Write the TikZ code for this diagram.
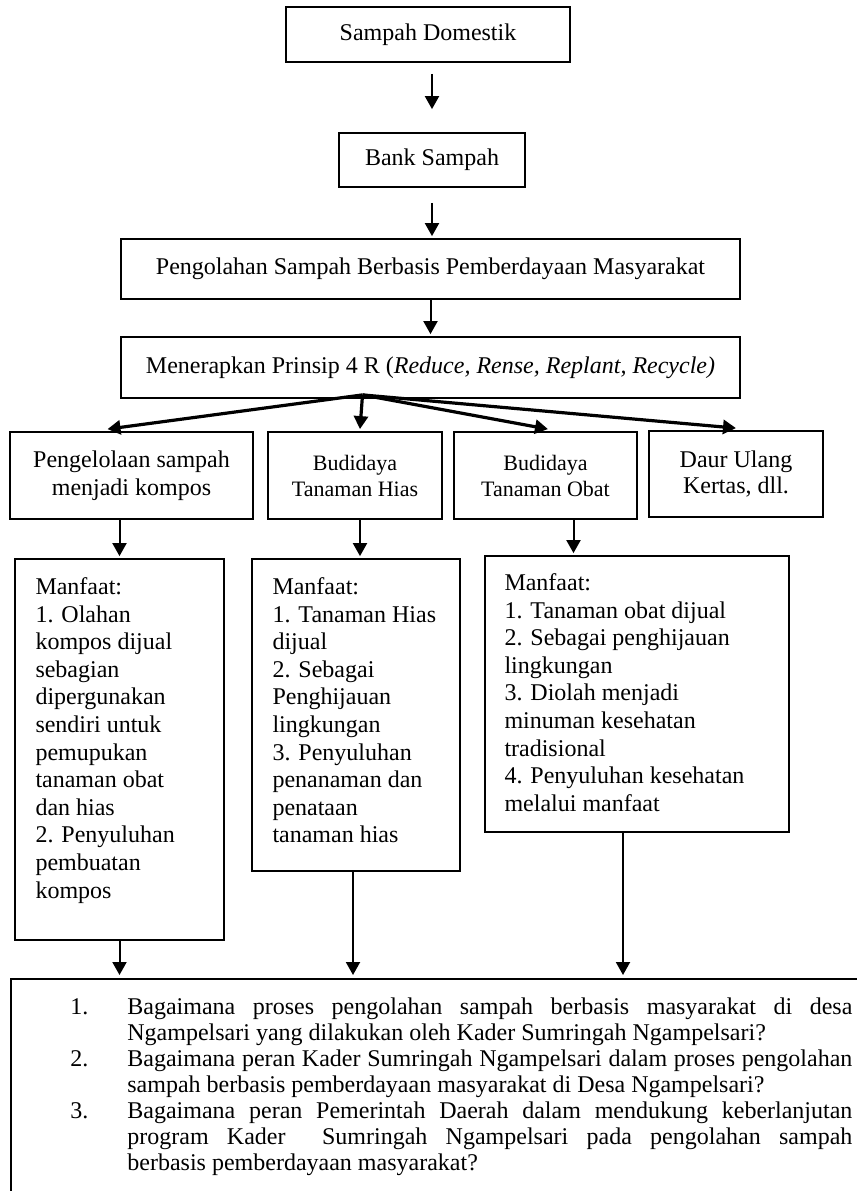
\documentclass[tikz,border=0pt]{standalone}
\usepackage{fontspec}
\setmainfont{Liberation Serif}
\usetikzlibrary{arrows.meta,positioning}

\begin{document}
\begin{tikzpicture}[x=0.5pt, y=-0.5pt,
  every node/.style={font=\fontsize{12pt}{13.8pt}\selectfont},
  kotak/.style={draw, line width=0.9pt, inner sep=0pt, align=center},
  isi/.style={anchor=north west, inner sep=0pt, align=left},
  arr/.style={line width=1pt, -{Triangle[length=6.5pt,width=7pt]}},
  fanarr/.style={line width=1.6pt, -{Triangle[length=6.5pt,width=7pt]}}]
  \useasboundingbox (0,0) rectangle (857,1191);
  \clip (0,0) rectangle (857,1191);

  \node[kotak, minimum width=142pt, minimum height=27.5pt] (dom) at (428,34.5) {Sampah Domestik};
  \node[kotak, minimum width=93pt, minimum height=27pt] (bank) at (432,160) {Bank Sampah};
  \node[kotak, minimum width=309.5pt, minimum height=30pt] (olah) at (430.5,269) {Pengolahan Sampah Berbasis Pemberdayaan Masyarakat};
  \node[kotak, minimum width=309.5pt, minimum height=30.5pt] (prinsip) at (430.5,367.5) {Menerapkan Prinsip 4 R (\textit{Reduce, Rense, Replant, Recycle)}};

  \node[kotak, minimum width=121.5pt, minimum height=43.5pt] (kompos) at (131.5,475.5) {Pengelolaan sampah\\menjadi kompos};
  \node[kotak, minimum width=87pt, minimum height=43.5pt, font=\fontsize{11pt}{13pt}\selectfont] (hias) at (355,475.5) {Budidaya\\Tanaman Hias};
  \node[kotak, minimum width=91.5pt, minimum height=43.5pt, font=\fontsize{11pt}{13pt}\selectfont] (obat) at (545.5,475.5) {Budidaya\\Tanaman Obat};
  \node[kotak, minimum width=87pt, minimum height=43pt, font=\fontsize{12pt}{13pt}\selectfont] (daur) at (736,474) {Daur Ulang\\Kertas, dll.};

  \node[kotak, minimum width=104.5pt, minimum height=190.5pt] (mkompos) at (119.5,749.5) {};
  \node[kotak, minimum width=104pt, minimum height=156pt] (mhias) at (356,715) {};
  \node[kotak, minimum width=152pt, minimum height=138pt] (mobat) at (637,694) {};
  \node[isi] (tkompos) at ([xshift=10.5pt, yshift=-9.5pt]mkompos.north west)
    {Manfaat:\\1. Olahan\\kompos dijual\\sebagian\\dipergunakan\\sendiri untuk\\pemupukan\\tanaman obat\\dan hias\\2. Penyuluhan\\pembuatan\\kompos};
  \node[isi] (thias) at ([xshift=10.5pt, yshift=-9.5pt]mhias.north west)
    {Manfaat:\\1. Tanaman Hias\\dijual\\2. Sebagai\\Penghijauan\\lingkungan\\3. Penyuluhan\\penanaman dan\\penataan\\tanaman hias};
  \node[isi] (tobat) at ([xshift=10pt, yshift=-9pt]mobat.north west)
    {Manfaat:\\1. Tanaman obat dijual\\2. Sebagai penghijauan\\lingkungan\\3. Diolah menjadi\\minuman kesehatan\\tradisional\\4. Penyuluhan kesehatan\\melalui manfaat};

  \node[kotak, anchor=north west, minimum width=440pt, minimum height=120pt] (soal) at (10,978) {};
  \node[anchor=north west, inner sep=0pt, text width=362.5pt, align=justify,
    font=\fontsize{12pt}{13pt}\selectfont] (tsoal) at (127,997)
    {\noindent\llap{1.\hspace{19.5pt}}Bagaimana proses pengolahan sampah berbasis masyarakat di desa\linebreak
     Ngampelsari yang dilakukan oleh Kader Sumringah Ngampelsari?\par
     \noindent\llap{2.\hspace{19.5pt}}Bagaimana peran Kader Sumringah Ngampelsari dalam proses pengolahan\linebreak
     sampah berbasis pemberdayaan masyarakat di Desa Ngampelsari?\par
     \noindent\llap{3.\hspace{19.5pt}}Bagaimana peran Pemerintah Daerah dalam mendukung keberlanjutan\linebreak
     program Kader\ \ Sumringah Ngampelsari pada pengolahan sampah\linebreak
     berbasis pemberdayaan masyarakat?\par};

  \draw[arr, shorten <=5.5pt, shorten >=11.5pt] (dom.south -| bank.north) -- (bank.north);
  \draw[arr, shorten <=7.5pt, shorten >=1pt] (bank.south) -- (bank.south |- olah.north);
  \draw[arr, shorten >=1pt] (olah.south) -- (olah.south |- prinsip.north);

  \coordinate (fan) at ([xshift=-34pt, yshift=2pt]prinsip.south);
  \foreach \t/\dx in {kompos/-12pt, hias/2.5pt, obat/1.25pt, daur/0pt}
    \draw[fanarr] (fan) -- ([xshift=\dx, yshift=1pt]\t.north);

  \draw[arr, shorten >=1pt] (mkompos.north |- kompos.south) -- (mkompos.north);
  \draw[arr, shorten >=1pt] ([xshift=2pt]mhias.north |- hias.south) -- ([xshift=2pt]mhias.north);
  \draw[arr, shorten >=1pt] ([xshift=14pt]obat.south) -- ([xshift=14pt]obat.south |- mobat.north);

  \draw[arr, shorten >=1.5pt] (mkompos.south) -- (mkompos.south |- soal.north);
  \draw[arr, shorten >=1.5pt] ([xshift=-1.5pt]mhias.south) -- ([xshift=-1.5pt]mhias.south |- soal.north);
  \draw[arr, shorten >=1.5pt] ([xshift=-7pt]mobat.south) -- ([xshift=-7pt]mobat.south |- soal.north);
\end{tikzpicture}
\end{document}
